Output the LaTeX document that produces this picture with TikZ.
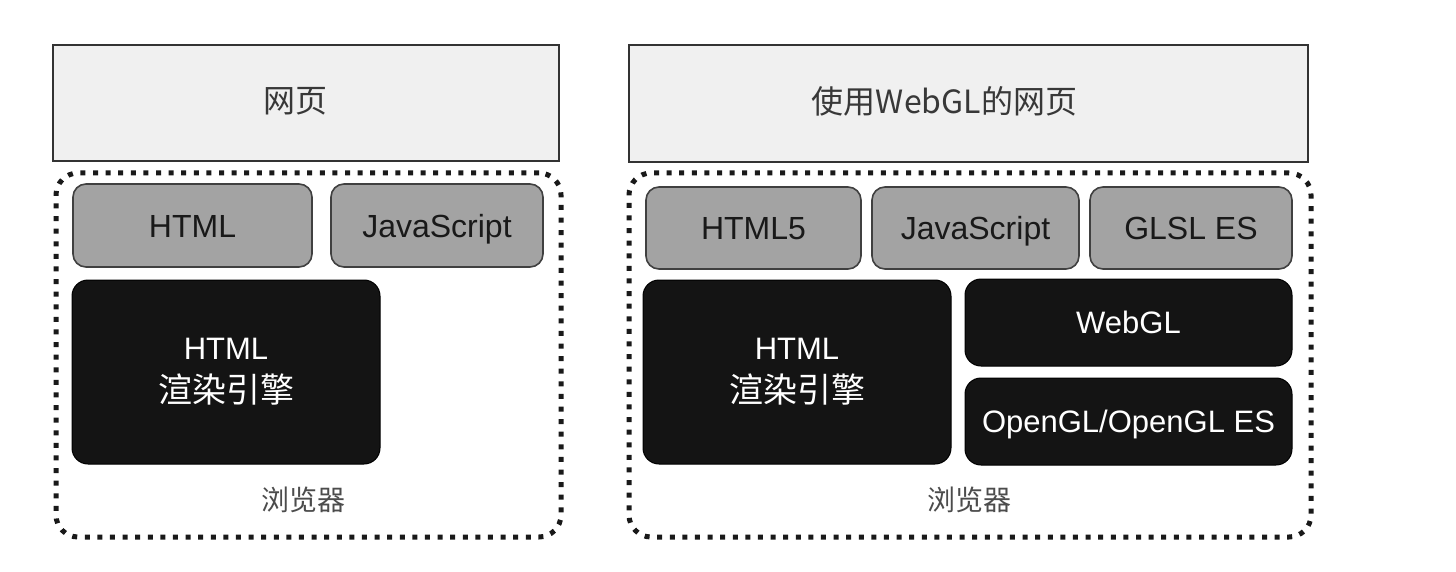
\documentclass[tikz,border=0pt]{standalone}
\usepackage{fontspec}
\setmainfont{Liberation Sans}
\newfontfamily\cjk{Noto Sans CJK SC}
\begin{document}
\begin{tikzpicture}[x=1pt,y=-1pt,
  topbox/.style={draw=black!80, line width=2pt, fill=black!6, inner sep=0pt},
  toplabel/.style={text=black!78, font=\cjk\fontsize{32}{38}\selectfont, inner sep=0pt},
  graybox/.style={draw=black!75, line width=1.6pt, fill=black!36, rounded corners=13pt, inner sep=0pt, font=\fontsize{32}{38}\selectfont, text=black!90, text height=23pt, text depth=0pt},
  darkbox/.style={draw=black, line width=1pt, fill=black!92, rounded corners=16pt, inner sep=0pt, text=white, align=center, font=\fontsize{31}{43}\selectfont},
  oneline/.style={text height=22pt, text depth=0pt},
  browserbox/.style={draw=black!90, line width=5pt, dash pattern=on 5pt off 7.6pt, rounded corners=22pt, inner sep=0pt},
  browserlabel/.style={text=black!70, font=\cjk\fontsize{28}{32}\selectfont, inner sep=0pt}
]
\useasboundingbox[fill=white] (0,0) rectangle (1456,572);

% left side
\node[topbox, minimum width=506pt, minimum height=116pt] (lpage) at (306,103) {};
\node[toplabel] (lpagetext) at (295.5,101) {网页};
\node[browserbox, minimum width=505pt, minimum height=364pt] (lbrowser) at (308.5,355) {};
\node[graybox, minimum width=239pt, minimum height=83pt] (lhtml) at (192.5,225.5) {HTML};
\node[graybox, minimum width=212pt, minimum height=83pt] (ljs) at (437,225.5) {JavaScript};
\node[darkbox, minimum width=308pt, minimum height=184pt] (lengine) at (226,372) {HTML\\{\cjk\fontsize{34}{43}\selectfont 渲染引擎}};
\node[browserlabel] (llabel) at (303.5,500) {浏览器};

% right side
\node[topbox, minimum width=679pt, minimum height=117pt] (rpage) at (968.5,103.5) {};
\node[toplabel] (rpagetext) at (944.5,101) {使用WebGL的网页};
\node[browserbox, minimum width=682pt, minimum height=364pt] (rbrowser) at (970,355) {};
\node[graybox, minimum width=215pt, minimum height=82pt] (rhtml) at (753.5,228) {HTML5};
\node[graybox, minimum width=207pt, minimum height=82pt] (rjs) at (975.5,228) {JavaScript};
\node[graybox, minimum width=202pt, minimum height=82pt] (rglsl) at (1191,228) {GLSL ES};
\node[darkbox, minimum width=308pt, minimum height=184pt] (rengine) at (797,372) {HTML\\{\cjk\fontsize{34}{43}\selectfont 渲染引擎}};
\node[darkbox, oneline, minimum width=327pt, minimum height=87pt] (webgl) at (1128.5,322.5) {WebGL};
\node[darkbox, oneline, minimum width=327pt, minimum height=87pt] (opengl) at (1128.5,421.5) {OpenGL/OpenGL ES};
\node[browserlabel] (rlabel) at (969,500) {浏览器};
\end{tikzpicture}
\end{document}
